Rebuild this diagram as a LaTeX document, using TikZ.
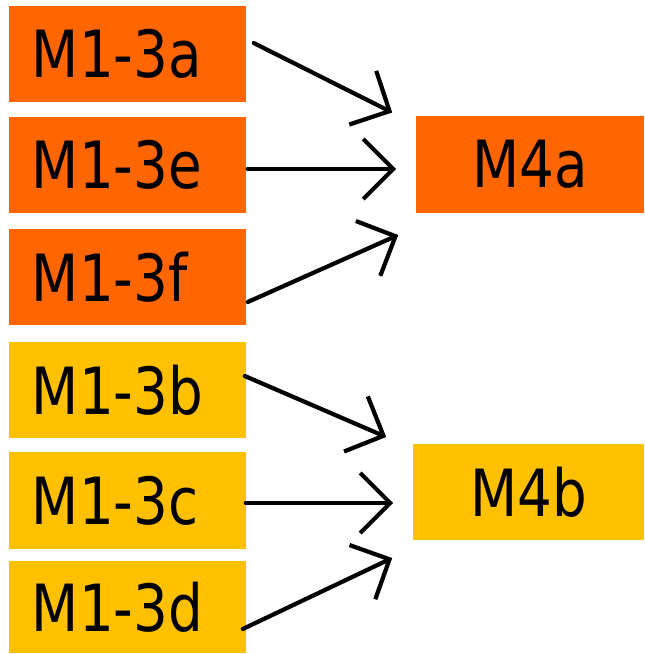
\documentclass[tikz,border=0pt]{standalone}
\usepackage{fontspec}
\setmainfont{DejaVu Sans}[FakeStretch=0.84]
\usetikzlibrary{arrows.meta}
\definecolor{orangeM}{HTML}{FF6600}
\definecolor{yellowM}{HTML}{FFC000}
\begin{document}
\begin{tikzpicture}[x=0.01cm, y=-0.01cm, line cap=round, line join=round,
	mbox/.style={inner sep=0pt, minimum height=0.96cm, font=\fontsize{18.5}{22}\selectfont},
	leftbox/.style={mbox, inner xsep=0.23cm, text width=1.91cm, align=left},
	arr/.style={-{Straight Barb[length=0.3cm, width=0.6cm]}, line width=1.2pt}]
	\useasboundingbox (0,0) rectangle (644,654);
	% left column
	\node[leftbox, fill=orangeM] (a) at (127.5,54) {M1-3a};
	\node[leftbox, fill=orangeM] (e) at (127.5,165) {M1-3e};
	\node[leftbox, fill=orangeM] (f) at (127.5,277) {M1-3f};
	\node[leftbox, fill=yellowM] (b) at (127.5,390) {M1-3b};
	\node[leftbox, fill=yellowM] (c) at (127.5,500.5) {M1-3c};
	\node[leftbox, fill=yellowM, minimum height=0.92cm] (d) at (127.5,607) {M1-3d};
	% right column
	\node[mbox, fill=orangeM, minimum width=2.28cm] (m4a) at (530,164.5) {M4a};
	\node[mbox, fill=yellowM, minimum width=2.31cm] (m4b) at (528.5,492) {M4b};
	% arrows
	\draw[arr] ([shift={(7,-11)}]a.east) -- ([shift={(-23,-52)}]m4a.west);
	\draw[arr] ([shift={(1,4)}]e.east) -- ([shift={(-19,4.5)}]m4a.west);
	\draw[arr] ([shift={(1,25)}]f.east) -- ([shift={(-17,70.5)}]m4a.west);
	\draw[arr] ([shift={(-2,-14)}]b.east) -- ([shift={(-26,-55)}]m4b.west);
	\draw[arr] ([shift={(-1,2.5)}]c.east) -- ([shift={(-19,11)}]m4b.west);
	\draw[arr] ([shift={(-4,22)}]d.east) -- ([shift={(-20,66)}]m4b.west);
\end{tikzpicture}
\end{document}
